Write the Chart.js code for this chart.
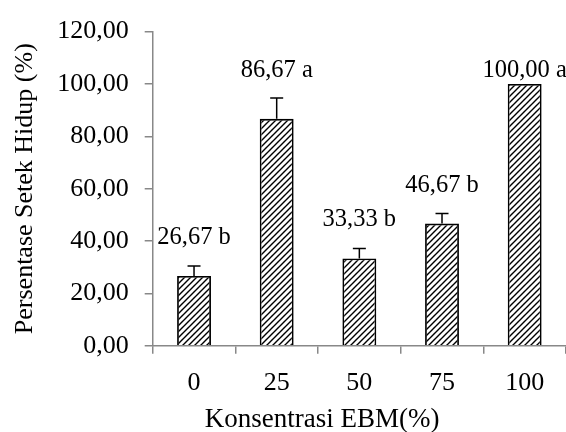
<!DOCTYPE html>
<html lang="id">
<head>
<meta charset="UTF-8">
<title>Persentase Setek Hidup</title>
<script src="https://cdn.jsdelivr.net/npm/chart.js"></script>
<style>
  html, body { margin: 0; padding: 0; background: #fff; }
  #wrap { width: 566px; height: 432px; }
</style>
</head>
<body>
<div id="wrap"><canvas id="chart" width="566" height="432"></canvas></div>
<script>
const konsentrasi = ['0', '25', '50', '75', '100'];
const setekHidup = [26.67, 86.67, 33.33, 46.67, 100.00];
const galat = [3.85, 8.0, 3.85, 3.85, 0];
const notasi = ['b', 'a', 'b', 'b', 'a'];

const FONT = 'Liberation Serif';

function hatch() {
  const c = document.createElement('canvas');
  c.width = 6; c.height = 6;
  const g = c.getContext('2d');
  g.fillStyle = '#fff';
  g.fillRect(0, 0, 6, 6);
  g.strokeStyle = '#000';
  g.lineWidth = 1.4;
  g.beginPath();
  g.moveTo(-1, 7); g.lineTo(7, -1);
  g.moveTo(-1, 1); g.lineTo(1, -1);
  g.moveTo(5, 7); g.lineTo(7, 5);
  g.stroke();
  return g.createPattern(c, 'repeat');
}

const fmt = v => v.toFixed(2).replace('.', ',');

const extras = {
  id: 'extras',
  afterDatasetsDraw(chart) {
    const ctx = chart.ctx;
    const y = chart.scales.y;
    const meta = chart.getDatasetMeta(0);
    ctx.save();
    ctx.strokeStyle = '#000';
    ctx.lineWidth = 1.5;
    meta.data.forEach((bar, i) => {
      if (!galat[i]) return;
      const top = y.getPixelForValue(setekHidup[i] + galat[i]);
      ctx.beginPath();
      ctx.moveTo(bar.x, bar.y);
      ctx.lineTo(bar.x, top);
      ctx.moveTo(bar.x - 6.5, top);
      ctx.lineTo(bar.x + 6.5, top);
      ctx.stroke();
    });
    ctx.fillStyle = '#000';
    ctx.font = '24.5px "' + FONT + '"';
    ctx.textAlign = 'center';
    ctx.textBaseline = 'alphabetic';
    meta.data.forEach((bar, i) => {
      const cap = y.getPixelForValue(setekHidup[i] + galat[i]);
      const ly = Math.max(cap - 22, y.getPixelForValue(102.5));
      ctx.fillText(fmt(setekHidup[i]) + ' ' + notasi[i], bar.x, ly);
    });
    // x axis title
    const area = chart.chartArea;
    ctx.font = '27px "' + FONT + '"';
    ctx.fillText('Konsentrasi EBM(%)', area.left + area.width * 0.41, 427);
    ctx.restore();
  }
};

new Chart(document.getElementById('chart'), {
  type: 'bar',
  data: {
    labels: konsentrasi,
    datasets: [{
      data: setekHidup,
      backgroundColor: hatch(),
      borderColor: '#000',
      borderWidth: 1.8,
      barPercentage: 0.41,
      categoryPercentage: 1
    }]
  },
  options: {
    responsive: false,
    animation: false,
    layout: { padding: { left: 10, right: 0, top: 16, bottom: 19 } },
    plugins: { legend: { display: false }, tooltip: { enabled: false } },
    scales: {
      x: {
        offset: true,
        grid: { offset: true, drawOnChartArea: false, tickLength: 8, color: '#888', lineWidth: 1.5 },
        border: { color: '#888', width: 1.5 },
        ticks: { color: '#000', font: { family: FONT, size: 26 }, padding: 14 }
      },
      y: {
        min: 0, max: 120,
        grid: { drawOnChartArea: false, tickLength: 8, color: '#888', lineWidth: 1.5 },
        border: { color: '#888', width: 1.5 },
        ticks: { stepSize: 20, color: '#000', font: { family: FONT, size: 26 }, padding: 16, callback: v => fmt(v) },
        title: { display: true, text: 'Persentase Setek Hidup (%)', color: '#000', font: { family: FONT, size: 26 }, padding: { top: 0, bottom: 0 } }
      }
    }
  },
  plugins: [extras]
});
</script>
</body>
</html>
